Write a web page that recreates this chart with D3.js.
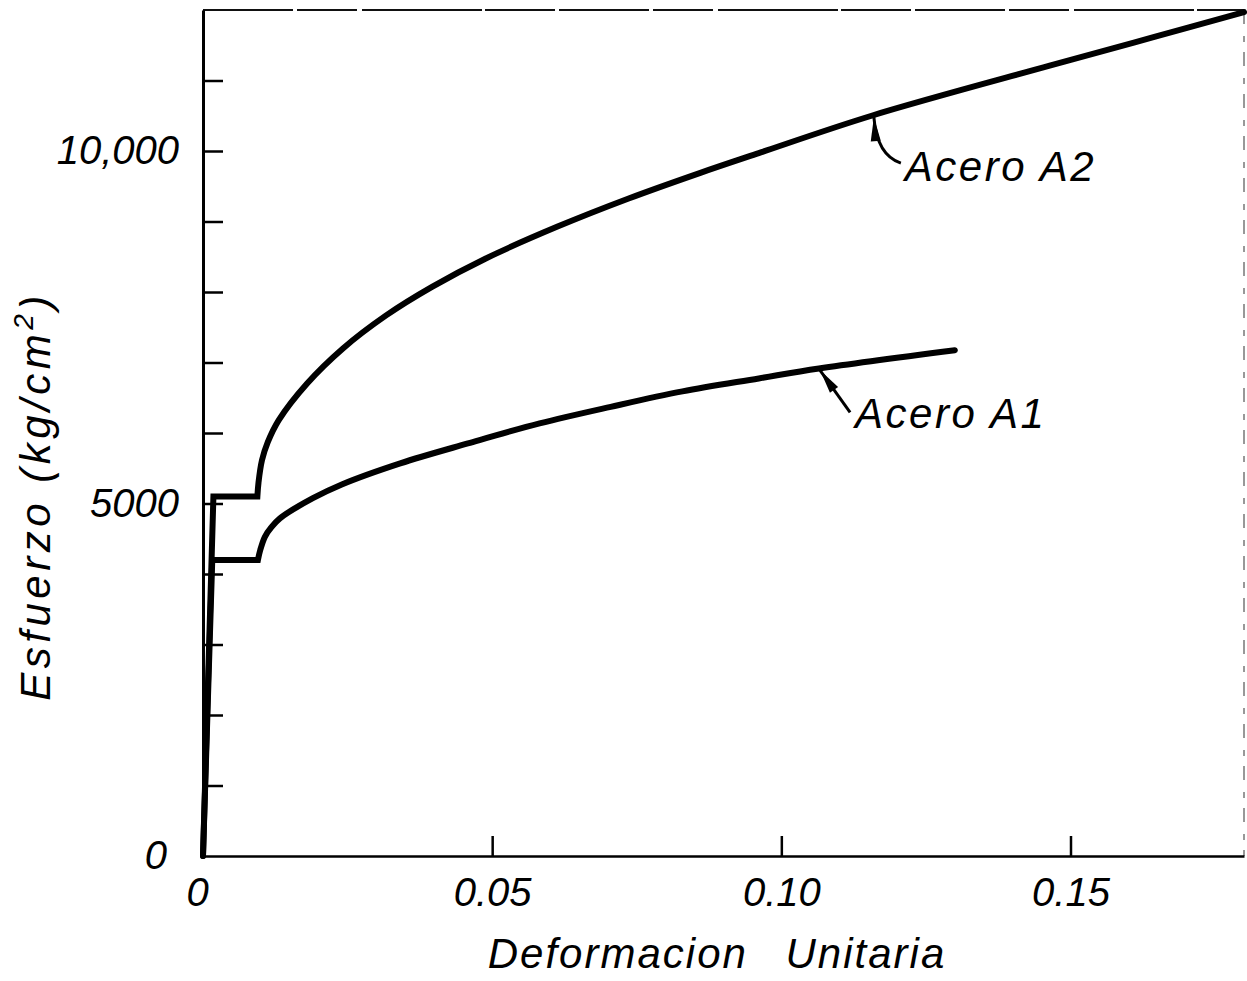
<!DOCTYPE html>
<html>
<head>
<meta charset="utf-8">
<script src="https://cdn.jsdelivr.net/npm/d3@7"></script>
<style>
  body { margin: 0; background: #fff; }
  svg text { font-family: "Liberation Sans", Arial, sans-serif; font-style: italic; fill: #000; }
</style>
</head>
<body>
<svg id="chart" width="1247" height="981"></svg>
<script>
// ---- data ----
const a2Strain = [0, 0.0018, 0.0094, 0.0096, 0.0102, 0.0112, 0.0131, 0.0180, 0.0242, 0.0316, 0.0396, 0.0489, 0.0612, 0.0736, 0.0860, 0.0961, 0.1156, 0.1464, 0.1645, 0.1800];
const a2Stress = [0, 5100, 5100, 5300, 5615, 5870, 6183, 6703, 7200, 7665, 8073, 8476, 8924, 9326, 9690, 9970, 10500, 11210, 11618, 11970];
const a1Strain = [0, 0.0016, 0.0095, 0.0099, 0.0107, 0.0118, 0.0133, 0.0190, 0.0240, 0.0341, 0.0458, 0.0582, 0.0705, 0.0829, 0.0961, 0.1065, 0.1300];
const a1Stress = [0, 4200, 4200, 4340, 4528, 4660, 4790, 5075, 5270, 5569, 5852, 6136, 6371, 6590, 6774, 6916, 7175];
const yieldEndIndex = 2; // last point of the yield plateau in both series

const yTickValues = [1000, 2000, 3000, 4000, 5000, 6000, 7000, 8000, 9000, 10000, 11000];
const yLabelValues = [0, 5000, 10000];
const yLabels = ["0", "5000", "10,000"];
const xTickValues = [0.05, 0.10, 0.15];
const xLabelValues = [0, 0.05, 0.10, 0.15];
const xLabels = ["0", "0.05", "0.10", "0.15"];

const seriesNames = ["Acero A2", "Acero A1"];
const annotationStrain = [0.116, 0.1067];

const xTitle = "Deformacion Unitaria";
const yTitleMain = "Esfuerzo (kg/cm";
const yTitleSup = "2";
const yTitleEnd = ")";

// ---- scales ----
const svg = d3.select("#chart");
const x = d3.scaleLinear().domain([0, 0.18]).range([203, 1244]);
const y = d3.scaleLinear().domain([0, 12000]).range([856, 10]);

// ---- frame (top and right) ----
svg.append("line")
  .attr("x1", x(0)).attr("x2", x(0.18)).attr("y1", y(12000)).attr("y2", y(12000))
  .attr("stroke", "#111").attr("stroke-width", 2)
  .attr("stroke-dasharray", "90 4 60 5 120 3 70 4");
svg.append("line")
  .attr("x1", x(0.18)).attr("x2", x(0.18)).attr("y1", y(12000)).attr("y2", y(0))
  .attr("stroke", "#777").attr("stroke-width", 1.5)
  .attr("stroke-dasharray", "14 12 6 10");

// ---- axes: ticks (inward) ----
const gy = svg.append("g").attr("transform", `translate(${x(0)},0)`)
  .call(d3.axisLeft(y).tickValues(yTickValues).tickSize(-20).tickSizeOuter(0).tickFormat(""));
gy.select(".domain").attr("stroke", "#000").attr("stroke-width", 3);
gy.selectAll(".tick line").attr("stroke", "#000").attr("stroke-width", 2.5);

const gx = svg.append("g").attr("transform", `translate(0,${y(0)})`)
  .call(d3.axisBottom(x).tickValues(xTickValues).tickSize(-20).tickSizeOuter(0).tickFormat(""));
gx.select(".domain").attr("stroke", "#000").attr("stroke-width", 2.5);
gx.selectAll(".tick line").attr("stroke", "#000").attr("stroke-width", 2.5);

// ---- axes: labels ----
const gyl = svg.append("g").attr("transform", `translate(${x(0)},0)`)
  .call(d3.axisLeft(y).tickValues(yLabelValues).tickSize(0).tickPadding(24)
    .tickFormat(d => yLabels[yLabelValues.indexOf(d)]));
gyl.select(".domain").remove();
gyl.attr("font-family", null).attr("font-size", 40);
gyl.selectAll("text").attr("font-size", 40);
gyl.selectAll(".tick").filter(d => d === 0).select("text").attr("dx", -12);

const gxl = svg.append("g").attr("transform", `translate(0,${y(0)})`)
  .call(d3.axisBottom(x).tickValues(xLabelValues).tickSize(0).tickPadding(22)
    .tickFormat(d => xLabels[xLabelValues.indexOf(d)]));
gxl.select(".domain").remove();
gxl.attr("font-family", null).attr("font-size", 40);
gxl.selectAll("text").attr("font-size", 40);
gxl.selectAll(".tick").filter(d => d === 0).select("text").attr("dx", -6);

// ---- axis titles ----
svg.append("text")
  .attr("x", 717).attr("y", 968)
  .attr("text-anchor", "middle")
  .attr("font-size", 42)
  .attr("letter-spacing", 2)
  .attr("word-spacing", 24)
  .text(xTitle);

const yt = svg.append("text")
  .attr("transform", "translate(50,496) rotate(-90)")
  .attr("text-anchor", "middle")
  .attr("font-size", 42)
  .attr("letter-spacing", 4.5);
yt.append("tspan").text(yTitleMain);
yt.append("tspan").attr("dy", -17).attr("font-size", 28).text(yTitleSup);
yt.append("tspan").attr("dy", 17).text(yTitleEnd);

// ---- curves ----
const series = [
  { strain: a2Strain, stress: a2Stress },
  { strain: a1Strain, stress: a1Stress }
];
const linear = d3.line().x(d => x(d[0])).y(d => y(d[1])).curve(d3.curveLinear);
const smooth = d3.line().x(d => x(d[0])).y(d => y(d[1])).curve(d3.curveCatmullRom.alpha(0.5));

series.forEach(s => {
  const pts = s.strain.map((v, i) => [v, s.stress[i]]);
  const elastic = pts.slice(0, yieldEndIndex + 1);
  const hardening = pts.slice(yieldEndIndex);
  const d = linear(elastic) + smooth(hardening).replace(/^M/, "L");
  svg.append("path")
    .attr("d", d)
    .attr("fill", "none")
    .attr("stroke", "#000")
    .attr("stroke-width", 6)
    .attr("stroke-linejoin", "miter")
    .attr("stroke-linecap", "round");
});

// ---- annotations (arrow + label) ----
function stressAt(s, strain) {
  const i = d3.bisectLeft(s.strain, strain);
  const x0 = s.strain[i - 1], x1 = s.strain[i];
  const t = (strain - x0) / (x1 - x0);
  return s.stress[i - 1] + t * (s.stress[i] - s.stress[i - 1]);
}
function arrowHead(tip, from, len, half) {
  const dx = tip[0] - from[0], dy = tip[1] - from[1];
  const n = Math.hypot(dx, dy);
  const ux = dx / n, uy = dy / n;
  const bx = tip[0] - ux * len, by = tip[1] - uy * len;
  return [[tip[0], tip[1]], [bx - uy * half, by + ux * half], [bx + uy * half, by - ux * half]];
}

// Acero A2: curved leader
{
  const s = series[0];
  const tx = x(annotationStrain[0]), ty = y(stressAt(s, annotationStrain[0]));
  const ctrl = [tx + 3, ty + 40];
  const tail = [tx + 27, ty + 48];
  svg.append("path")
    .attr("d", `M${tx},${ty + 2} Q${ctrl[0]},${ctrl[1]} ${tail[0]},${tail[1]}`)
    .attr("fill", "none").attr("stroke", "#000").attr("stroke-width", 3);
  svg.append("polygon")
    .attr("points", arrowHead([tx, ty + 2], ctrl, 24, 5).map(p => p.join(",")).join(" "))
    .attr("fill", "#000");
  svg.append("text")
    .attr("x", tx + 31).attr("y", ty + 66)
    .attr("font-size", 42).attr("letter-spacing", 2.5)
    .text(seriesNames[0]);
}

// Acero A1: straight leader
{
  const s = series[1];
  const tx = x(annotationStrain[1]), ty = y(stressAt(s, annotationStrain[1]));
  const tail = [tx + 30, ty + 44];
  svg.append("line")
    .attr("x1", tx).attr("y1", ty + 2).attr("x2", tail[0]).attr("y2", tail[1])
    .attr("stroke", "#000").attr("stroke-width", 3);
  svg.append("polygon")
    .attr("points", arrowHead([tx, ty + 2], tail, 24, 5).map(p => p.join(",")).join(" "))
    .attr("fill", "#000");
  svg.append("text")
    .attr("x", tx + 35).attr("y", ty + 60)
    .attr("font-size", 42).attr("letter-spacing", 2.5)
    .text(seriesNames[1]);
}
</script>
</body>
</html>
